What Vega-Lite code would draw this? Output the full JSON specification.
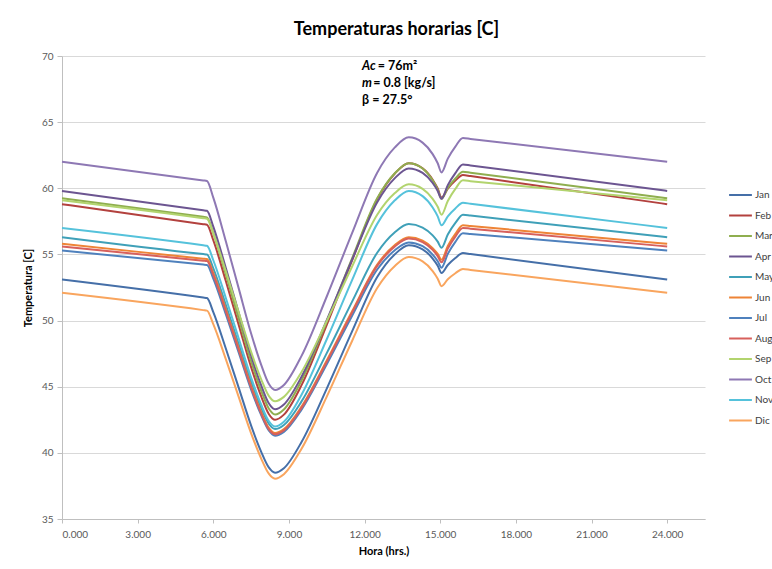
{
  "$schema": "https://vega.github.io/schema/vega-lite/v6.json",
  "width": 643,
  "height": 463,
  "autosize": {"type": "none"},
  "padding": {"left": 62, "top": 56, "right": 67, "bottom": 50},
  "background": "white",
  "title": {"text": "Temperaturas horarias [C]", "font": "Lato", "fontSize": 18, "fontWeight": "bold", "color": "#000000", "offset": 12, "dx": 13, "anchor": "middle"},
  "config": {
    "view": {"stroke": null},
    "axis": {"labelFont": "Lato", "labelFontSize": 10, "labelColor": "#595959", "titleFont": "Lato", "titleFontSize": 11, "titleFontWeight": "bold", "titleColor": "#000000", "domainColor": "#BFBFBF", "tickColor": "#BFBFBF", "gridColor": "#D9D9D9"}
  },
  "layer": [
    {
      "data": {"values": [
        {"h": 0, "Jan": 53.1, "Feb": 58.8, "Mar": 59.25, "Apr": 59.8, "May": 56.3, "Jun": 55.8, "Jul": 55.3, "Aug": 55.6, "Sep": 59.1, "Oct": 62.0, "Nov": 57.0, "Dic": 52.1},
        {"h": 5.6, "Jan": 51.74, "Feb": 57.29, "Mar": 57.84, "Apr": 58.34, "May": 55.03, "Jun": 54.68, "Jul": 54.23, "Aug": 54.53, "Sep": 57.74, "Oct": 60.59, "Nov": 55.69, "Dic": 50.79},
        {"h": 5.75, "Jan": 51.7, "Feb": 57.25, "Mar": 57.8, "Apr": 58.3, "May": 55.0, "Jun": 54.65, "Jul": 54.2, "Aug": 54.5, "Sep": 57.7, "Oct": 60.55, "Nov": 55.65, "Dic": 50.75},
        {"h": 6.0, "Jan": 50.64, "Feb": 56.07, "Mar": 56.61, "Apr": 57.1, "May": 53.94, "Jun": 53.6, "Jul": 53.17, "Aug": 53.45, "Sep": 56.6, "Oct": 59.29, "Nov": 54.56, "Dic": 49.73},
        {"h": 6.5, "Jan": 47.87, "Feb": 52.97, "Mar": 53.48, "Apr": 53.95, "May": 51.17, "Jun": 50.84, "Jul": 50.46, "Aug": 50.7, "Sep": 53.7, "Oct": 55.97, "Nov": 51.69, "Dic": 47.07},
        {"h": 7.0, "Jan": 44.97, "Feb": 49.73, "Mar": 50.2, "Apr": 50.65, "May": 48.27, "Jun": 47.94, "Jul": 47.62, "Aug": 47.82, "Sep": 50.66, "Oct": 52.49, "Nov": 48.69, "Dic": 44.27},
        {"h": 7.5, "Jan": 42.06, "Feb": 46.48, "Mar": 46.92, "Apr": 47.35, "May": 45.36, "Jun": 45.05, "Jul": 44.78, "Aug": 44.94, "Sep": 47.63, "Oct": 49.02, "Nov": 45.69, "Dic": 41.48},
        {"h": 7.9, "Jan": 40.08, "Feb": 44.27, "Mar": 44.69, "Apr": 45.1, "May": 43.38, "Jun": 43.08, "Jul": 42.85, "Aug": 42.97, "Sep": 45.56, "Oct": 46.65, "Nov": 43.64, "Dic": 39.57},
        {"h": 8.2, "Jan": 38.9, "Feb": 42.94, "Mar": 43.35, "Apr": 43.75, "May": 42.2, "Jun": 41.89, "Jul": 41.69, "Aug": 41.79, "Sep": 44.31, "Oct": 45.22, "Nov": 42.41, "Dic": 38.43},
        {"h": 8.45, "Jan": 38.5, "Feb": 42.5, "Mar": 42.9, "Apr": 43.3, "May": 41.8, "Jun": 41.5, "Jul": 41.3, "Aug": 41.4, "Sep": 43.9, "Oct": 44.75, "Nov": 42.0, "Dic": 38.05},
        {"h": 8.8, "Jan": 38.84, "Feb": 42.89, "Mar": 43.28, "Apr": 43.66, "May": 42.11, "Jun": 41.8, "Jul": 41.59, "Aug": 41.7, "Sep": 44.23, "Oct": 45.13, "Nov": 42.36, "Dic": 38.39},
        {"h": 9.5, "Jan": 40.82, "Feb": 45.12, "Mar": 45.47, "Apr": 45.76, "May": 43.89, "Jun": 43.5, "Jul": 43.27, "Aug": 43.4, "Sep": 46.11, "Oct": 47.33, "Nov": 44.4, "Dic": 40.31},
        {"h": 10.5, "Jan": 44.86, "Feb": 49.68, "Mar": 49.93, "Apr": 50.03, "May": 47.54, "Jun": 46.98, "Jul": 46.7, "Aug": 46.88, "Sep": 49.97, "Oct": 51.82, "Nov": 48.59, "Dic": 44.25},
        {"h": 11.5, "Jan": 49.16, "Feb": 54.53, "Mar": 54.68, "Apr": 54.58, "May": 51.41, "Jun": 50.68, "Jul": 50.35, "Aug": 50.58, "Sep": 54.07, "Oct": 56.59, "Nov": 53.04, "Dic": 48.44},
        {"h": 12.5, "Jan": 53.29, "Feb": 59.18, "Mar": 59.24, "Apr": 58.95, "May": 55.13, "Jun": 54.23, "Jul": 53.86, "Aug": 54.13, "Sep": 58.0, "Oct": 61.18, "Nov": 57.31, "Dic": 52.46},
        {"h": 13.2, "Jan": 55.01, "Feb": 61.12, "Mar": 61.14, "Apr": 60.77, "May": 56.68, "Jun": 55.71, "Jul": 55.32, "Aug": 55.61, "Sep": 59.64, "Oct": 63.09, "Nov": 59.09, "Dic": 54.13},
        {"h": 13.75, "Jan": 55.7, "Feb": 61.9, "Mar": 61.9, "Apr": 61.5, "May": 57.3, "Jun": 56.3, "Jul": 55.9, "Aug": 56.2, "Sep": 60.3, "Oct": 63.85, "Nov": 59.8, "Dic": 54.8},
        {"h": 14.3, "Jan": 55.39, "Feb": 61.51, "Mar": 61.5, "Apr": 61.16, "May": 57.03, "Jun": 56.05, "Jul": 55.62, "Aug": 55.93, "Sep": 59.96, "Oct": 63.45, "Nov": 59.41, "Dic": 54.47},
        {"h": 14.7, "Jan": 54.69, "Feb": 60.65, "Mar": 60.6, "Apr": 60.4, "May": 56.44, "Jun": 55.48, "Jul": 54.99, "Aug": 55.34, "Sep": 59.2, "Oct": 62.58, "Nov": 58.55, "Dic": 53.74},
        {"h": 14.9, "Jan": 54.15, "Feb": 59.98, "Mar": 59.9, "Apr": 59.8, "May": 55.97, "Jun": 55.04, "Jul": 54.49, "Aug": 54.87, "Sep": 58.6, "Oct": 61.89, "Nov": 57.88, "Dic": 53.17},
        {"h": 15.05, "Jan": 53.6, "Feb": 59.3, "Mar": 59.2, "Apr": 59.2, "May": 55.5, "Jun": 54.6, "Jul": 54.0, "Aug": 54.4, "Sep": 58.0, "Oct": 61.2, "Nov": 57.2, "Dic": 52.6},
        {"h": 15.3, "Jan": 54.2, "Feb": 59.98, "Mar": 60.02, "Apr": 60.24, "May": 56.5, "Jun": 55.64, "Jul": 55.04, "Aug": 55.44, "Sep": 59.04, "Oct": 62.24, "Nov": 57.88, "Dic": 53.12},
        {"h": 15.6, "Jan": 54.73, "Feb": 60.58, "Mar": 60.74, "Apr": 61.15, "May": 57.38, "Jun": 56.55, "Jul": 55.95, "Aug": 56.35, "Sep": 59.95, "Oct": 63.15, "Nov": 58.48, "Dic": 53.58},
        {"h": 15.9, "Jan": 55.1, "Feb": 61.0, "Mar": 61.25, "Apr": 61.8, "May": 58.0, "Jun": 57.2, "Jul": 56.6, "Aug": 57.0, "Sep": 60.6, "Oct": 63.8, "Nov": 58.9, "Dic": 53.9},
        {"h": 16.2, "Jan": 55.03, "Feb": 60.92, "Mar": 61.18, "Apr": 61.73, "May": 57.94, "Jun": 57.15, "Jul": 56.55, "Aug": 56.95, "Sep": 60.54, "Oct": 63.73, "Nov": 58.83, "Dic": 53.83},
        {"h": 24, "Jan": 53.1, "Feb": 58.8, "Mar": 59.25, "Apr": 59.8, "May": 56.3, "Jun": 55.8, "Jul": 55.3, "Aug": 55.6, "Sep": 59.1, "Oct": 62.0, "Nov": 57.0, "Dic": 52.1}
      ]},
      "transform": [{"fold": ["Jan", "Feb", "Mar", "Apr", "May", "Jun", "Jul", "Aug", "Sep", "Oct", "Nov", "Dic"], "as": ["mes", "temp"]}],
      "mark": {"type": "line", "interpolate": "monotone", "strokeWidth": 2},
      "encoding": {
        "x": {"field": "h", "type": "quantitative", "scale": {"domain": [0, 25.5], "nice": false, "zero": false},
          "axis": {"title": "Hora (hrs.)", "values": [0, 3, 6, 9, 12, 15, 18, 21, 24], "format": ".3f", "grid": false, "tickSize": 4, "labelPadding": 6, "titlePadding": 6}},
        "y": {"field": "temp", "type": "quantitative", "scale": {"domain": [35, 70], "nice": false, "zero": false},
          "axis": {"title": "Temperatura [C]", "values": [35, 40, 45, 50, 55, 60, 65, 70], "tickSize": 5, "labelPadding": 4, "titlePadding": 8, "grid": true}},
        "color": {"field": "mes", "type": "nominal",
          "scale": {"domain": ["Jan", "Feb", "Mar", "Apr", "May", "Jun", "Jul", "Aug", "Sep", "Oct", "Nov", "Dic"],
            "range": ["#456FA8", "#B3413E", "#8FAE4F", "#6C5591", "#3FA0B8", "#EE8436", "#4F81BD", "#D7605C", "#B2D46E", "#8E78B4", "#55C2DB", "#F9A55E"]},
          "legend": {"title": null, "orient": "none", "legendX": 666, "legendY": 129, "symbolType": "stroke", "symbolSize": 520, "symbolStrokeWidth": 2, "clipHeight": 20, "rowPadding": 0.5, "labelFont": "Lato", "labelFontSize": 10, "labelColor": "#404040", "labelOffset": 2}},
        "order": {"field": "h", "type": "quantitative"}
      }
    },
    {
      "data": {"values": [
        {"x": 11.9, "y": 69.24, "t": "Ac"},
        {"x": 11.9, "y": 67.96, "t": "m"}
      ]},
      "mark": {"type": "text", "font": "Lato", "fontSize": 12.5, "fontWeight": "bold", "fontStyle": "italic", "align": "left", "baseline": "middle", "color": "#000000"},
      "encoding": {"x": {"field": "x", "type": "quantitative"}, "y": {"field": "y", "type": "quantitative"}, "text": {"field": "t"}}
    },
    {
      "data": {"values": [
        {"x": 12.52, "y": 69.24, "t": " = 76m²"},
        {"x": 12.34, "y": 67.96, "t": " = 0.8 [kg/s]"},
        {"x": 11.9, "y": 66.67, "t": "β = 27.5°"}
      ]},
      "mark": {"type": "text", "font": "Lato", "fontSize": 12.5, "fontWeight": "bold", "align": "left", "baseline": "middle", "color": "#000000"},
      "encoding": {"x": {"field": "x", "type": "quantitative"}, "y": {"field": "y", "type": "quantitative"}, "text": {"field": "t"}}
    }
  ]
}
